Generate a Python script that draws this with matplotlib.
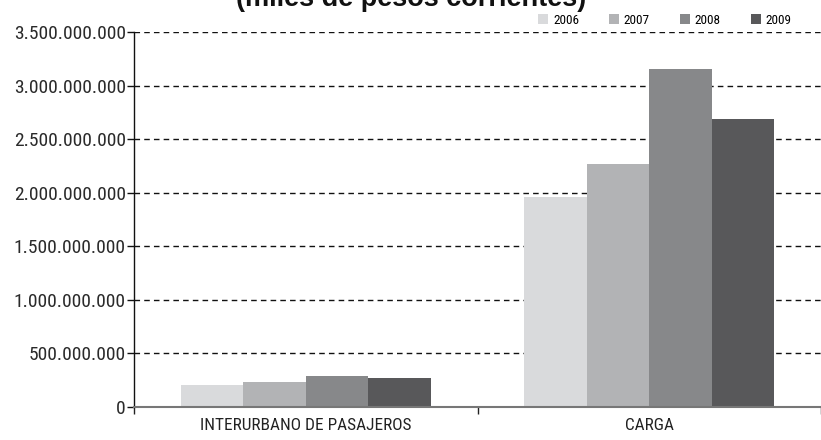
import matplotlib
matplotlib.use("Agg")
import matplotlib.pyplot as plt
import numpy as np
from matplotlib.ticker import FuncFormatter
from matplotlib.patches import Patch

categories = ["INTERURBANO DE PASAJEROS", "CARGA"]
years = ["2006", "2007", "2008", "2009"]
values_2006 = [205_000_000, 1_963_000_000]
values_2007 = [233_000_000, 2_272_000_000]
values_2008 = [289_000_000, 3_150_000_000]
values_2009 = [270_000_000, 2_686_000_000]
series = [values_2006, values_2007, values_2008, values_2009]
colors = ["#d9dadc", "#b2b3b5", "#87888a", "#58585a"]
yticks = [0, 500_000_000, 1_000_000_000, 1_500_000_000, 2_000_000_000,
          2_500_000_000, 3_000_000_000, 3_500_000_000]
title = "(miles de pesos corrientes)"

COND = ["Roboto Condensed", "DejaVu Sans"]

W, H = 821, 440
fig = plt.figure(figsize=(W / 100, H / 100), dpi=100)
ax = fig.add_axes([134 / W, (H - 407) / H, (W - 134) / W, (407 - 32) / H])

x = np.arange(len(categories))
bw = 0.182
for i, (vals, c) in enumerate(zip(series, colors)):
    ax.bar(x + (i - 1.5) * bw, vals, width=bw, color=c, zorder=3, linewidth=0)

ax.set_xlim(-0.5, 1.5)
ax.set_ylim(0, 3_500_000_000)

ax.set_yticks(yticks)
ax.yaxis.set_major_formatter(FuncFormatter(lambda v, p: f"{int(v):,}".replace(",", ".")))
for v in yticks[1:]:
    ax.axhline(v, color="#111111", linestyle=(0, (4, 3)), linewidth=1.0, zorder=1)

ax.set_xticks([-0.5, 0.5, 1.5])
ax.set_xticklabels([])
ax.set_xticks(x, minor=True)
ax.set_xticklabels(categories, minor=True, fontsize=12.4, family=COND, color="#222222")
ax.tick_params(axis="x", which="minor", length=0, pad=8)
ax.tick_params(axis="x", which="major", length=5, width=1, color="#222222", direction="out")
ax.tick_params(axis="y", length=5, width=1, color="#111111", pad=1, labelsize=14, labelcolor="#2a2a2a")
for lab in ax.get_yticklabels():
    lab.set_family(COND)

for s in ["top", "right"]:
    ax.spines[s].set_visible(False)
ax.spines["left"].set_color("#111111")
ax.spines["left"].set_linewidth(1.0)
ax.spines["bottom"].set_color("#777777")
ax.spines["bottom"].set_linewidth(1.5)
ax.spines["bottom"].set_zorder(4)

handles = [Patch(facecolor=c, edgecolor="none", label=y) for c, y in zip(colors, years)]
fig.legend(handles=handles, loc="center", bbox_to_anchor=(665 / W, 1 - 20 / H), ncol=4,
           frameon=False, prop={"family": COND, "size": 9.5},
           handlelength=0.75, handleheight=0.75, handletextpad=0.35, columnspacing=2.3,
           borderpad=0, borderaxespad=0)

fig.text(411 / W, 1 - 6 / H, title, ha="center", va="baseline", fontsize=19.5,
         fontweight="bold", family=["Liberation Sans", "DejaVu Sans"], color="#111111")

fig.savefig("out.png", dpi=100)
